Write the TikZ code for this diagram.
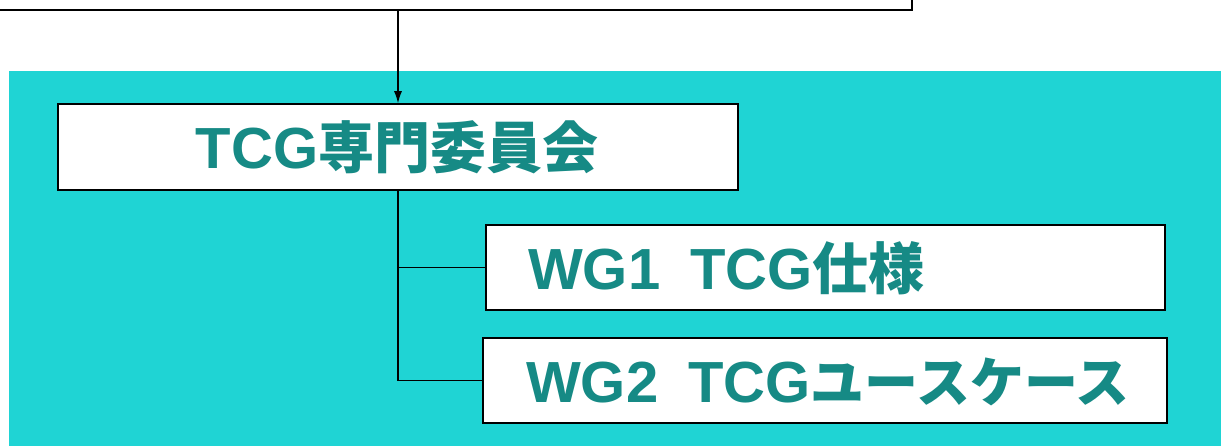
\documentclass[tikz,border=0pt]{standalone}
\usepackage{fontspec}
\usetikzlibrary{arrows.meta}
\newfontfamily\latf{Liberation Sans}
\newfontfamily\cjkf{Noto Sans CJK JP}
\definecolor{bgcyan}{HTML}{1FD4D4}
\definecolor{tealtx}{HTML}{168A85}
\newcommand{\LatTxt}[1]{{\latf\bfseries\fontsize{58}{60}\selectfont #1}}
\newcommand{\JpTxt}[2][56]{{\cjkf\bfseries\fontsize{#1}{60}\selectfont #2}}
\tikzset{
  box/.style={draw=black, line width=1.5pt, fill=white, rectangle, inner sep=0pt},
  lbl/.style={text=tealtx, inner sep=0pt, anchor=base west},
  conn/.style={draw=black, line width=1.3pt},
}
\begin{document}
\begin{tikzpicture}[x=1pt,y=-1pt]
\useasboundingbox (0,0) rectangle (1223,446);
\fill[bgcyan] (9,71) rectangle (1221,446);
\node[box, minimum width=917pt, minimum height=40pt] (top) at (453.5,-10) {};
\node[box, minimum width=680pt, minimum height=86pt] (tcg) at (398,147) {};
\node[box, minimum width=679pt, minimum height=85pt] (wg1) at (825.5,267.5) {};
\node[box, minimum width=684pt, minimum height=85pt] (wg2) at (825,380.5) {};
\node[lbl, anchor=base] (tcgt) at (397,169) {\LatTxt{TCG}\JpTxt{専門委員会}};
\node[lbl] (wg1t) at (528,290) {\LatTxt{WG1}\hspace{30pt}\LatTxt{TCG}\JpTxt{仕様}};
\node[lbl] (wg2t) at (526,402) {\LatTxt{WG2}\hspace{30pt}\LatTxt{TCG}\JpTxt[54]{ユースケース}};
\draw[conn, -{Latex[length=12pt,width=8pt]}] (tcg.north |- top.south) -- (tcg.north);
\draw[conn] (tcg.south) -- (tcg.south |- wg2.west) -- (wg2.west);
\draw[conn] (tcg.south |- wg1.west) -- (wg1.west);
\end{tikzpicture}
\end{document}
